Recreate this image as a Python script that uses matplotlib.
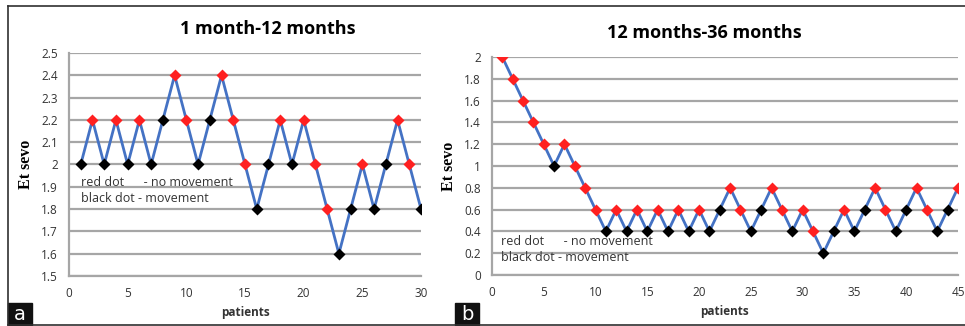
import numpy as np
import matplotlib.pyplot as plt
from matplotlib.lines import Line2D
from matplotlib.patches import Rectangle

plt.rcParams["font.family"] = ["Open Sans", "DejaVu Sans"]

# panel a: 1 month - 12 months
pat_a = list(range(1, 31))
sevo_a = [2.0, 2.2, 2.0, 2.2, 2.0, 2.2, 2.0, 2.2, 2.4, 2.2,
          2.0, 2.2, 2.4, 2.2, 2.0, 1.8, 2.0, 2.2, 2.0, 2.2,
          2.0, 1.8, 1.6, 1.8, 2.0, 1.8, 2.0, 2.2, 2.0, 1.8]
# 1 = movement (black dot), 0 = no movement (red dot)
move_a = [1, 0, 1, 0, 1, 0, 1, 1, 0, 0,
          1, 1, 0, 0, 0, 1, 1, 0, 1, 0,
          0, 0, 1, 1, 0, 1, 1, 0, 0, 1]

# panel b: 12 months - 36 months
pat_b = list(range(1, 46))
sevo_b = [2.0, 1.8, 1.6, 1.4, 1.2, 1.0, 1.2, 1.0, 0.8, 0.6,
          0.4, 0.6, 0.4, 0.6, 0.4, 0.6, 0.4, 0.6, 0.4, 0.6,
          0.4, 0.6, 0.8, 0.6, 0.4, 0.6, 0.8, 0.6, 0.4, 0.6,
          0.4, 0.2, 0.4, 0.6, 0.4, 0.6, 0.8, 0.6, 0.4, 0.6,
          0.8, 0.6, 0.4, 0.6, 0.8]
move_b = [0, 0, 0, 0, 0, 1, 0, 0, 0, 0,
          1, 0, 1, 0, 1, 0, 1, 0, 1, 0,
          1, 1, 0, 0, 1, 1, 0, 0, 1, 0,
          0, 1, 1, 0, 1, 1, 0, 0, 1, 1,
          0, 0, 1, 1, 0]

grid_col = "#a6a6a6"
line_col = "#4472c4"
tick_col = "#333333"


def draw_panel(ax, x, y, mv, title, title_x, ylim, yticks, xticks, note_xy):
    x = np.array(x)
    y = np.array(y)
    mv = np.array(mv, dtype=bool)
    ax.plot(x, y, color=line_col, lw=2, zorder=3)
    ax.plot(x[~mv], y[~mv], "D", color="#ff2020", ms=6.5, mec="none", zorder=4)
    ax.plot(x[mv], y[mv], "D", color="black", ms=6.5, mec="none", zorder=4)
    ax.set_ylim(ylim)
    ax.set_xlim(xticks[0], xticks[-1])
    ax.set_yticks(yticks)
    ax.set_xticks(xticks)
    ax.set_yticklabels([f"{v:g}" for v in yticks])
    ax.yaxis.grid(True, color=grid_col, lw=1.6)
    ax.set_axisbelow(True)
    for s in ["top", "right"]:
        ax.spines[s].set_visible(False)
    for s in ["left", "bottom"]:
        ax.spines[s].set_color(grid_col)
        ax.spines[s].set_linewidth(1.6)
    ax.tick_params(length=0, labelsize=8.5, labelcolor=tick_col, pad=8)
    ax.set_title(title, fontsize=13, fontweight="bold", pad=14, x=title_x)
    ax.set_xlabel("patients", fontsize=8.5, fontweight="bold", color=tick_col)
    ax.set_ylabel("Et sevo", fontsize=11.5, fontweight="bold",
                  family="Liberation Serif", labelpad=5)
    ax.text(note_xy[0], note_xy[1], "red dot      - no movement\nblack dot - movement",
            transform=ax.transAxes, fontsize=9, color=tick_col,
            linespacing=1.3, va="top", ha="left")


fig = plt.figure(figsize=(9.65, 3.26), dpi=100)
ax1 = fig.add_axes([0.0715, 0.1534, 0.3648, 0.684])
ax2 = fig.add_axes([0.5098, 0.1564, 0.4829, 0.6687])

draw_panel(ax1, pat_a, sevo_a, move_a, "1 month-12 months", 0.565, (1.5, 2.5),
           np.round(np.arange(1.5, 2.51, 0.1), 1), [0, 5, 10, 15, 20, 25, 30],
           (0.035, 0.45))
draw_panel(ax2, pat_b, sevo_b, move_b, "12 months-36 months", 0.455, (0, 2),
           np.round(np.arange(0, 2.01, 0.2), 1), [0, 5, 10, 15, 20, 25, 30, 35, 40, 45],
           (0.02, 0.185))

# outer frame and panel tags
fig.add_artist(Line2D([8 / 965, 1], [1 - 6 / 326, 1 - 6 / 326], color="#303030", lw=1.2))
fig.add_artist(Line2D([8 / 965, 1], [1 / 326, 1 / 326], color="#303030", lw=1.2))
fig.add_artist(Line2D([8 / 965, 8 / 965], [1 / 326, 1 - 6 / 326], color="#303030", lw=1.2))
for x0, lab in [(8, "a"), (455, "b")]:
    fig.add_artist(Rectangle((x0 / 965, 1 / 326), 24 / 965, 22 / 326,
                             transform=fig.transFigure, color="#111111"))
    fig.text((x0 + 12) / 965, 11 / 326, lab, color="white", fontsize=14,
             ha="center", va="center", family="DejaVu Sans")

fig.savefig("out.png", dpi=100)
